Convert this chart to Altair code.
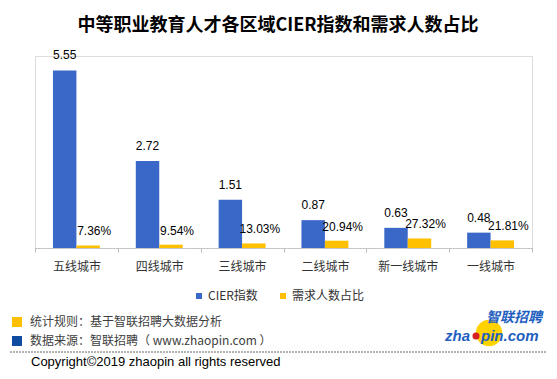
import altair as alt
import pandas as pd

cities = ["五线城市", "四线城市", "三线城市", "二线城市", "新一线城市", "一线城市"]
cier = [5.55, 2.72, 1.51, 0.87, 0.63, 0.48]
demand_pct = [7.36, 9.54, 13.03, 20.94, 27.32, 21.81]
series = ["CIER指数", "需求人数占比"]

title_text = "中等职业教育人才各区域CIER指数和需求人数占比"
note_rule = "统计规则：基于智联招聘大数据分析"
note_source = "数据来源：智联招聘（ www.zhaopin.com ）"
copyright_text = "Copyright©2019 zhaopin all rights reserved"

df = pd.DataFrame({"city": cities, "cier": cier, "pct": demand_pct})
df["cier_label"] = [f"{v:.2f}" for v in cier]
df["pct_label"] = [f"{v:.2f}%" for v in demand_pct]

W, H = 497, 192
CJK = "Noto Sans CJK SC"
NUM = "Liberation Sans"
BLUE = "#3A68C8"
YELLOW = "#FFC000"

xenc = alt.X(
    "city:N", sort=cities,
    scale=alt.Scale(paddingInner=0, paddingOuter=0),
    axis=alt.Axis(title=None, labelAngle=0, domainColor="#BBBBBB", domainDash=[2, 1],
                  tickColor="#BBBBBB", tickSize=4, tickBand="extent", labelPadding=9,
                  labelFont=CJK, labelFontSize=12, labelColor="#333333"),
)
offscale = alt.Scale(domain=series, paddingInner=0, paddingOuter=0.766)
yb = alt.Y("cier:Q", scale=alt.Scale(domain=[0, 6]), axis=None)
yy = alt.Y("pct:Q", scale=alt.Scale(domain=[0, 550]), axis=None)

base = alt.Chart(df)
blue_bar = base.transform_calculate(s="'CIER指数'").mark_bar(color=BLUE).encode(
    x=xenc, xOffset=alt.XOffset("s:N", scale=offscale), y=yb)
blue_txt = base.transform_calculate(s="'CIER指数'").mark_text(
    font=NUM, fontSize=12, dy=-15, baseline="middle", color="#000000").encode(
    x=xenc, xOffset=alt.XOffset("s:N", scale=offscale), y=yb, text="cier_label:N")
yel_bar = base.transform_calculate(s="'需求人数占比'").mark_bar(color=YELLOW).encode(
    x=xenc, xOffset=alt.XOffset("s:N", scale=offscale), y=yy)
yel_txt = base.transform_calculate(s="'需求人数占比'").mark_text(
    font=NUM, fontSize=12, dy=-14, dx=6, baseline="middle", color="#000000").encode(
    x=xenc, xOffset=alt.XOffset("s:N", scale=offscale), y=yy, text="pct_label:N")


def one():
    return alt.Chart(pd.DataFrame({"a": [0]}))


def deco_text(t, x, y, **kw):
    opts = dict(align="left", baseline="middle", font=CJK, fontSize=12, color="#333333")
    opts.update(kw)
    return alt.Chart(pd.DataFrame({"t": [t]})).mark_text(**opts).encode(
        x=alt.value(x), y=alt.value(y), text="t:N")


def square(x, y, size, color):
    return one().mark_square(size=size, color=color, opacity=1).encode(
        x=alt.value(x), y=alt.value(y))


decos = [
    deco_text(title_text, 243, -30, align="center", fontSize=18, fontWeight="bold", color="#000000"),
    square(164, 240, 36, BLUE),
    deco_text(series[0], 173, 240),
    square(248, 240, 36, YELLOW),
    deco_text(series[1], 257, 240),
    square(-18, 266, 100, YELLOW),
    deco_text(note_rule, -5, 266, color="#404040"),
    square(-18, 285, 100, "#0F4BA0"),
    deco_text(note_source, -5, 285, color="#404040"),
    one().mark_rule(color="#666666", strokeDash=[2, 1], strokeWidth=1).encode(
        x=alt.value(-25), x2=alt.value(512), y=alt.value(296)),
    deco_text(copyright_text, -4, 306, font=NUM, fontSize=13, color="#000000"),
    one().mark_circle(size=700, color="#FFD200", opacity=1).encode(x=alt.value(454), y=alt.value(277)),
    deco_text("智联招聘", 451, 262, fontSize=14, fontWeight="bold", fontStyle="italic", color="#1F5FBF"),
    deco_text("zha", 410, 280, font=NUM, fontSize=15, fontWeight="bold", fontStyle="italic", color="#1F5FBF"),
    one().mark_circle(size=50, color="#D42020", opacity=1).encode(x=alt.value(441), y=alt.value(280)),
    deco_text("pin.com", 446, 280, font=NUM, fontSize=15, fontWeight="bold", fontStyle="italic", color="#1F5FBF"),
]

chart = alt.layer(blue_bar, yel_bar, blue_txt, yel_txt, *decos).resolve_scale(y="independent").properties(
    width=W, height=H,
    autosize=alt.AutoSizeParams(type="none"),
    padding={"left": 27, "top": 48, "right": 17, "bottom": 123},
).configure_view(stroke=None).configure(background="white")

chart.save("out.html", embed_options={"renderer": "svg", "actions": False})
